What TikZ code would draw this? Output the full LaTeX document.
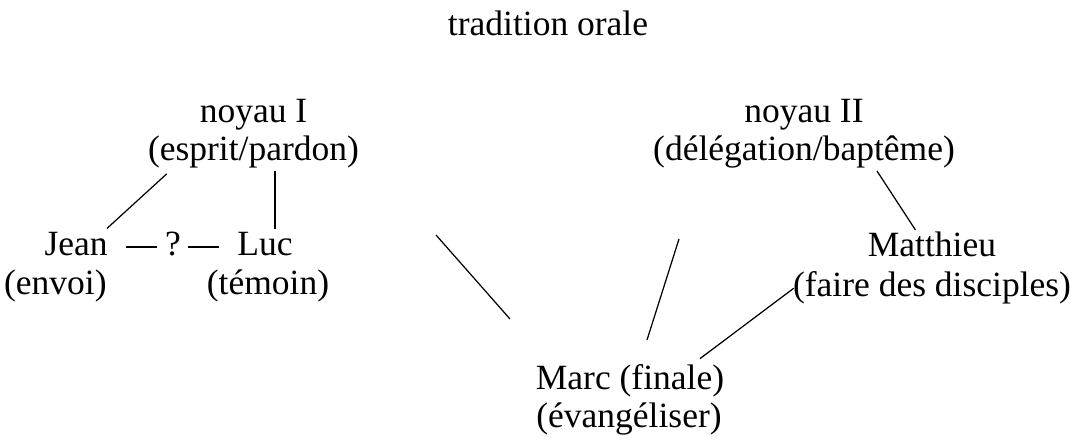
\documentclass[tikz,border=0pt]{standalone}
\usepackage{fontspec}
\setmainfont{Liberation Serif}
\usetikzlibrary{calc}

\tikzset{
    txt/.style={font=\fontsize{20.2pt}{24pt}\selectfont, inner sep=0pt, anchor=base},
    link/.style={line width=0.7pt}
}

\begin{document}
\begin{tikzpicture}
    \useasboundingbox (0,0) rectangle (21.78,8.88);

    % Top
    \node[txt] (orale) at (10.96,8.18) {tradition orale};

    % The two cores
    \node[txt] (noyA) at (5.07,6.44) {noyau I};
    \node[txt] (noyAgl) at (5.07,5.68) {(esprit/pardon)};
    \node[txt] (noyB) at (16.08,6.44) {noyau II};
    \node[txt] (noyBgl) at (16.08,5.68) {(délégation/baptême)};

    % Gospels
    \node[txt, anchor=base east] (jean) at (2.16,3.78) {Jean};
    \node[txt, anchor=base east] (jeangl) at (2.14,3.0) {(envoi)};
    \node[txt] (quest) at (3.46,3.78) {?};
    \node[txt] (luc) at (5.30,3.78) {Luc};
    \node[txt] (lucgl) at (5.36,3.0) {(témoin)};
    \node[txt] (matt) at (18.64,3.76) {Matthieu};
    \node[txt] (mattgl) at (18.64,2.96) {(faire des disciples)};
    \node[txt] (marc) at (12.60,1.10) {Marc (finale)};
    \node[txt] (marcgl) at (12.58,0.34) {(évangéliser)};

    % Loose strokes towards Marc
    \coordinate (fAtop) at (8.72,4.18);
    \coordinate (fAbot) at (10.20,2.50);
    \coordinate (fBtop) at (13.58,4.10);
    \coordinate (fBbot) at (12.94,2.08);

    \draw[link] ($(noyAgl.south west)+(0.38,-0.12)$) -- ($(jean.north east)+(-0.02,0.06)$);
    \draw[link] ($(luc.north)+(0.2,0.04)$) -- ($(luc.north |- noyAgl.south)+(0.2,-0.06)$);
    \draw[link] ($(jean.base east)+(0.36,0.16)$) -- ($(quest.base west)+(-0.16,0.16)$);
    \draw[link] ($(quest.base east)+(0.14,0.16)$) -- ($(luc.base west)+(-0.36,0.16)$);
    \draw[link] (fAtop) -- (fAbot);
    \draw[link] (fBtop) -- (fBbot);
    \draw[link] ($(noyBgl.south)+(1.46,-0.06)$) -- ($(matt.north)+(-0.33,0.02)$);
    \draw[link] ($(mattgl.west)+(0.02,-0.02)$) -- ($(marc.north east)+(-0.49,0.10)$);
\end{tikzpicture}
\end{document}
